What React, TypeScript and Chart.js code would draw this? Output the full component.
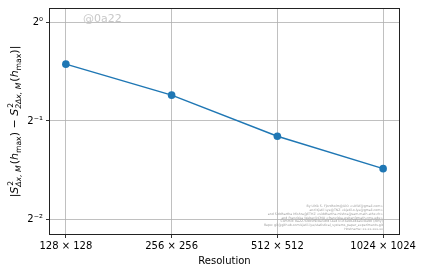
import React, { useEffect, useRef } from "react";
import { Chart, registerables } from "chart.js";

Chart.register(...registerables);

const resolutions = [128, 256, 512, 1024];
const resolutionLabels = ["128 × 128", "256 × 256", "512 × 512", "1024 × 1024"];
const differences = [0.747, 0.6, 0.449, 0.357];
const yTickExponents = [-2, -1, 0];
const yTickLabels = ["2⁻²", "2⁻¹", "2⁰"];
const xAxisTitle = "Resolution";
const watermark = "@0a22";
const creditLines = [
  "By Ulrik S. Fjordholm@UiO <ulrikf@gmail.com>",
  "and Kjetil Lye@TNZ <kjetil.o.lye@gmail.com>",
  "and Siddhartha Mishra@ETHZ <siddhartha.mishra@sam.math.ethz.ch>",
  "and Franziska Weber@CMU <franziska.weber@math.cmu.edu>",
  "Commit: 0a22769b5f9c8e5dfd72ed7c1f3e0b2d4a6c8e90 (dirty)",
  "Repo: git@github.com:kjetil-lye/statistical_systems_paper_experiments.git",
  "Hostname: xx-xx-xxx-xx",
];

const FONT = "'DejaVu Sans', sans-serif";

type Seg =
  | { t: string; size: number; italic?: boolean; dy?: number }
  | { sup: string; sub: string; size: number };

const yTitleSegs = (base: number): Seg[] => {
  const s = base * 0.7;
  return [
    { t: "|", size: base },
    { t: "S", size: base, italic: true },
    { sup: "2", sub: "Δx, M", size: s },
    { t: "(", size: base },
    { t: "h", size: base, italic: true },
    { t: "max", size: s, dy: base * 0.25 },
    { t: ")", size: base },
    { t: " − ", size: base },
    { t: "S", size: base, italic: true },
    { sup: "2", sub: "2Δx, M", size: s },
    { t: "(", size: base },
    { t: "h", size: base, italic: true },
    { t: "max", size: s, dy: base * 0.25 },
    { t: ")", size: base },
    { t: "|", size: base },
  ];
};

const fontStr = (size: number, italic?: boolean) =>
  `${italic ? "italic " : ""}${size}px ${FONT}`;

const drawYTitle = (ctx: CanvasRenderingContext2D, cx: number, cy: number) => {
  const base = 11;
  const segs = yTitleSegs(base);
  const widths = segs.map((sg) => {
    if ("sup" in sg) {
      ctx.font = fontStr(sg.size, true);
      return Math.max(ctx.measureText(sg.sup).width, ctx.measureText(sg.sub).width) + 1;
    }
    ctx.font = fontStr(sg.size, sg.italic);
    return ctx.measureText(sg.t).width;
  });
  const total = widths.reduce((a, b) => a + b, 0);
  ctx.save();
  ctx.translate(cx, cy);
  ctx.rotate(-Math.PI / 2);
  ctx.fillStyle = "#000";
  ctx.textBaseline = "alphabetic";
  ctx.textAlign = "left";
  let x = -total / 2;
  const baseY = base * 0.35;
  segs.forEach((sg, i) => {
    if ("sup" in sg) {
      ctx.font = fontStr(sg.size, false);
      ctx.fillText(sg.sup, x + 1, baseY - base * 0.45);
      ctx.font = fontStr(sg.size, true);
      ctx.fillText(sg.sub, x, baseY + base * 0.3);
    } else {
      ctx.font = fontStr(sg.size, sg.italic);
      ctx.fillText(sg.t, x, baseY + (sg.dy || 0));
    }
    x += widths[i];
  });
  ctx.restore();
};

const decorPlugin = {
  id: "decor",
  beforeDatasetsDraw(chart: any) {
    const { ctx, chartArea } = chart;
    ctx.save();
    ctx.fillStyle = "#c8c8c8";
    ctx.font = `11px ${FONT}`;
    ctx.textAlign = "left";
    ctx.textBaseline = "middle";
    ctx.fillText(watermark, chartArea.left + 33, chartArea.top + 10);
    ctx.fillStyle = "#9a9a9a";
    ctx.font = `3.2px ${FONT}`;
    ctx.textAlign = "right";
    ctx.textBaseline = "middle";
    creditLines.forEach((line, i) => {
      ctx.fillText(line, chartArea.right - 16, 206 + i * 3.9);
    });
    ctx.restore();
  },
  afterDraw(chart: any) {
    const { ctx, chartArea } = chart;
    ctx.save();
    ctx.strokeStyle = "#222";
    ctx.lineWidth = 1;
    ctx.strokeRect(
      Math.round(chartArea.left) - 0.5,
      Math.round(chartArea.top) - 0.5,
      Math.round(chartArea.right - chartArea.left) + 1,
      Math.round(chartArea.bottom - chartArea.top) + 1
    );
    ctx.fillStyle = "#000";
    ctx.font = `10px ${FONT}`;
    ctx.textAlign = "center";
    ctx.textBaseline = "middle";
    ctx.fillText(xAxisTitle, (chartArea.left + chartArea.right) / 2, 261);
    drawYTitle(ctx, 14, (chartArea.top + chartArea.bottom) / 2);
    ctx.restore();
  },
};

export default function App() {
  const ref = useRef<HTMLCanvasElement>(null);
  useEffect(() => {
    if (!ref.current) return;
    const points = resolutions.map((r, i) => ({
      x: Math.log2(r),
      y: Math.log2(differences[i]),
    }));
    const chart = new Chart(ref.current, {
      type: "line",
      data: {
        datasets: [
          {
            data: points,
            borderColor: "#1f77b4",
            backgroundColor: "#1f77b4",
            borderWidth: 1.5,
            pointRadius: 3.8,
            pointBorderWidth: 0,
            pointBackgroundColor: "#1f77b4",
            tension: 0,
          },
        ],
      },
      options: {
        responsive: false,
        animation: false,
        devicePixelRatio: 1,
        layout: { padding: { top: 7, right: 25, left: 0, bottom: 0 } },
        plugins: { legend: { display: false }, tooltip: { enabled: false } },
        scales: {
          x: {
            type: "linear",
            min: 6.85,
            max: 10.15,
            afterBuildTicks: (s: any) => {
              s.ticks = resolutions.map((r) => ({ value: Math.log2(r) }));
            },
            afterFit: (s: any) => {
              s.height = 40;
            },
            ticks: {
              callback: (v: any) => {
                const idx = resolutions.findIndex((r) => Math.abs(Math.log2(r) - v) < 1e-6);
                return idx >= 0 ? resolutionLabels[idx] : "";
              },
              font: { family: FONT, size: 10 },
              color: "#000",
              padding: 2,
              maxRotation: 0,
              autoSkip: false,
            },
            grid: {
              color: "#b0b0b0",
              lineWidth: 0.8,
              tickColor: "#000",
              tickLength: 4,
            },
            border: { display: false },
          },
          y: {
            type: "linear",
            min: -2.152,
            max: 0.141,
            afterBuildTicks: (s: any) => {
              s.ticks = yTickExponents.map((e) => ({ value: e }));
            },
            afterFit: (s: any) => {
              s.width = 50;
            },
            ticks: {
              callback: (v: any) => {
                const idx = yTickExponents.indexOf(Math.round(v));
                return idx >= 0 ? yTickLabels[idx] : "";
              },
              font: { family: FONT, size: 10 },
              color: "#000",
              padding: 3,
              autoSkip: false,
            },
            grid: {
              color: "#b0b0b0",
              lineWidth: 0.8,
              tickColor: "#000",
              tickLength: 4,
            },
            border: { display: false },
          },
        },
      } as any,
      plugins: [decorPlugin],
    });
    return () => chart.destroy();
  }, []);
  return (
    <div style={{ position: "absolute", left: 0, top: 0, width: 424, height: 274, background: "#fff" }}>
      <canvas ref={ref} width={424} height={274} style={{ width: 424, height: 274 }} />
    </div>
  );
}
